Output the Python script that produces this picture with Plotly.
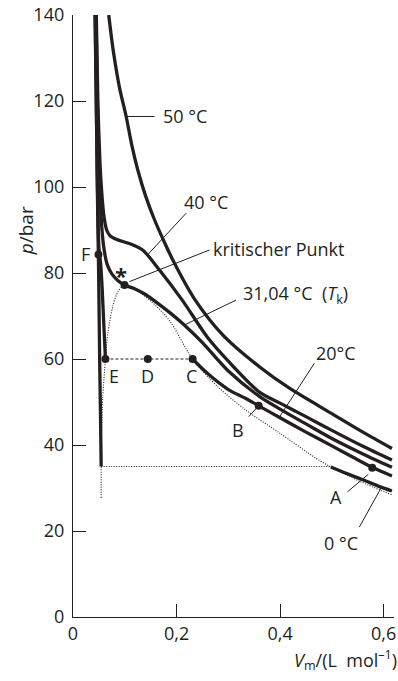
import plotly.graph_objects as go

INK = "#231f20"
FONT = "Open Sans"

# ---- isotherms of CO2: molar volume V_m (L/mol) and pressure p (bar) ----
v50 = [0.069, 0.078, 0.090, 0.1027, 0.114, 0.125, 0.140, 0.157, 0.173, 0.195, 0.2345, 0.29, 0.36, 0.418, 0.50, 0.56, 0.616]
p50 = [140, 131.5, 123, 116.4, 109.5, 104, 98, 92.5, 88.1, 82.5, 74, 65.5, 58.2, 53.2, 47.3, 43.0, 39.2]

v40 = [0.045, 0.048, 0.052, 0.056, 0.060, 0.065, 0.072, 0.0865, 0.11, 0.135, 0.167, 0.211, 0.26, 0.30, 0.36, 0.399, 0.45, 0.50, 0.56, 0.616]
p40 = [140, 120, 106, 98, 93, 90, 88.6, 87.7, 86.8, 85.3, 80.7, 73.7, 65, 59.5, 52.3, 49.8, 46.6, 43.4, 39.7, 36.5]

v31 = [0.0445, 0.047, 0.050, 0.053, 0.056, 0.060, 0.066, 0.075, 0.087, 0.0995, 0.12, 0.14, 0.16, 0.19, 0.215, 0.25, 0.30, 0.36, 0.399, 0.45, 0.50, 0.56, 0.616]
p31 = [140, 120, 105, 96, 90, 85.5, 82, 79.8, 78.2, 77.2, 76.3, 75, 73.3, 70.5, 67.9, 63.8, 57.2, 51.3, 48.4, 44.9, 41.5, 37.9, 34.8]

# 20 °C: liquid branch (E upwards) and gas branch (C to the right)
v20_liq = [0.043, 0.0445, 0.046, 0.048, 0.050, 0.0535, 0.0565, 0.0595, 0.0627]
p20_liq = [140, 125, 110, 95, 86, 82, 76, 68, 60]
v20_gas = [0.231, 0.26, 0.30, 0.334, 0.3587, 0.399, 0.45, 0.50, 0.54, 0.578, 0.616]
p20_gas = [60, 56.6, 52.9, 50.8, 49.1, 46.4, 43.0, 39.8, 37.2, 34.8, 32.8]
v20_flat = [0.0627, 0.231]
p20_flat = [60, 60]

# 0 °C: liquid branch, gas branch, dotted two-phase line at 35 bar
v0_liq = [0.0425, 0.045, 0.047, 0.0495, 0.0515, 0.053, 0.0544]
p0_liq = [140, 120, 100, 80, 60, 48, 35]
v0_gas = [0.498, 0.53, 0.56, 0.595, 0.616]
p0_gas = [34.9, 33.3, 31.9, 30.2, 29.3]
v0_flat = [0.0544, 0.498]
p0_flat = [35, 35]

# dotted two-phase envelope
v_env = [0.0544, 0.0545, 0.055, 0.0575, 0.0627, 0.0672, 0.0768, 0.087, 0.0995, 0.12, 0.15, 0.186, 0.231, 0.28, 0.334, 0.399, 0.4695, 0.498, 0.555, 0.616]
p_env = [27.7, 35, 42, 51.2, 60, 66, 72.2, 75.7, 77.2, 76.2, 73.5, 69, 60, 53.5, 48.1, 42.8, 36.9, 34.9, 31.5, 28.4]

# labelled states
pt_names = ["A", "B", "C", "D", "E", "F"]
pt_v = [0.578, 0.3587, 0.231, 0.1445, 0.0627, 0.0492]
pt_p = [34.7, 49.1, 60, 60, 60, 84.3]
crit_v = [0.0995]
crit_p = [77.2]

# axis ticks
x_ticks = [0, 0.2, 0.4, 0.6]
x_ticktext = ["0", "0,2", "0,4", "0,6"]
y_ticks = [0, 20, 40, 60, 80, 100, 120, 140]

# text labels: (text, x, y, xanchor)
labels = [
    ("50 °C", 0.1703, 116.4, "left"),
    ("40 °C", 0.2577, 96.5, "center"),
    ("kritischer Punkt", 0.2668, 85.5, "left"),
    ("31,04 °C  (<i>T</i><sub>k</sub>)", 0.3247, 74.9, "left"),
    ("20°C", 0.4662, 61.3, "left"),
    ("0 °C", 0.5178, 17.2, "center"),
    ("A", 0.508, 28.0, "center"),
    ("B", 0.318, 43.5, "center"),
    ("C", 0.228, 56.1, "center"),
    ("D", 0.1444, 56.1, "center"),
    ("E", 0.0801, 56.1, "center"),
    ("F", 0.0241, 84.4, "center"),
]
# leader lines: (x0, y0, x1, y1)
leaders = [
    (0.1027, 116.4, 0.1575, 116.4),
    (0.2185, 93.9, 0.1438, 84.2),
    (0.2635, 85.35, 0.109, 78.0),
    (0.315, 73.7, 0.2153, 67.9),
    (0.4662, 59.0, 0.3987, 46.5),
    (0.553, 20.9, 0.595, 30.0),
    (0.530, 29.1, 0.5705, 33.2),
    (0.3394, 46.6, 0.3587, 49.1),
]

fig = go.Figure()

def curve(v, p, width=3.3, dash="solid"):
    fig.add_trace(go.Scatter(x=v, y=p, mode="lines", line=dict(color=INK, width=width, dash=dash, shape="spline", smoothing=0.8),
                             hoverinfo="skip", showlegend=False))

curve(v_env, p_env, width=1.1, dash="1px,1.5px")
curve(v0_flat, p0_flat, width=1.1, dash="1px,1.5px")
curve(v20_flat, p20_flat, width=1.1, dash="3px,2px")
curve(v50, p50)
curve(v40, p40)
curve(v31, p31)
curve(v20_liq, p20_liq)
curve(v20_gas, p20_gas)
curve(v0_liq, p0_liq)
curve(v0_gas, p0_gas)

fig.add_trace(go.Scatter(x=pt_v, y=pt_p, mode="markers", marker=dict(color=INK, size=8),
                         hoverinfo="skip", showlegend=False, cliponaxis=False))
fig.add_trace(go.Scatter(x=crit_v, y=crit_p, mode="markers", marker=dict(color=INK, size=8),
                         hoverinfo="skip", showlegend=False, cliponaxis=False))

for (x0, y0, x1, y1) in leaders:
    fig.add_shape(type="line", x0=x0, y0=y0, x1=x1, y1=y1, xref="x", yref="y",
                  line=dict(color=INK, width=1))

for text, x, y, xa in labels:
    fig.add_annotation(text=text, x=x, y=y, xref="x", yref="y", xanchor=xa, yanchor="middle",
                       showarrow=False, font=dict(family=FONT, size=18, color=INK))

fig.add_annotation(text="<b>*</b>", x=0.093, y=79.5, xref="x", yref="y", showarrow=False,
                   xanchor="center", yanchor="middle", font=dict(family=FONT, size=22, color=INK))

fig.add_annotation(text="<i>p</i>/bar", x=-0.146, y=0.641, xref="paper", yref="paper",
                   xanchor="center", yanchor="middle",
                   textangle=-90, showarrow=False, font=dict(family=FONT, size=19, color=INK))
fig.add_annotation(text="<i>V</i><sub>m</sub>/(L  mol<sup>–1</sup>)", x=0.85, y=-0.0714,
                   xref="paper", yref="paper", xanchor="center", yanchor="middle",
                   showarrow=False, font=dict(family=FONT, size=18, color=INK))

axis_common = dict(showline=True, linecolor=INK, linewidth=1.3, ticks="inside", ticklen=13, tickwidth=1.3,
                   tickcolor=INK, showgrid=False, zeroline=False, mirror=False, automargin=False,
                   tickfont=dict(family=FONT, size=18, color=INK))

fig.update_xaxes(range=[0, 0.62], tickvals=x_ticks, ticktext=x_ticktext, **axis_common)
fig.update_yaxes(range=[0, 140], tickvals=y_ticks, ticklabelstandoff=4, **axis_common)

fig.update_layout(width=398, height=681, margin=dict(l=73, r=4, t=15, b=64),
                  paper_bgcolor="white", plot_bgcolor="white", showlegend=False)

fig.write_html("out.html", config={"displayModeBar": False},
               post_script="document.body.style.margin='0';")
